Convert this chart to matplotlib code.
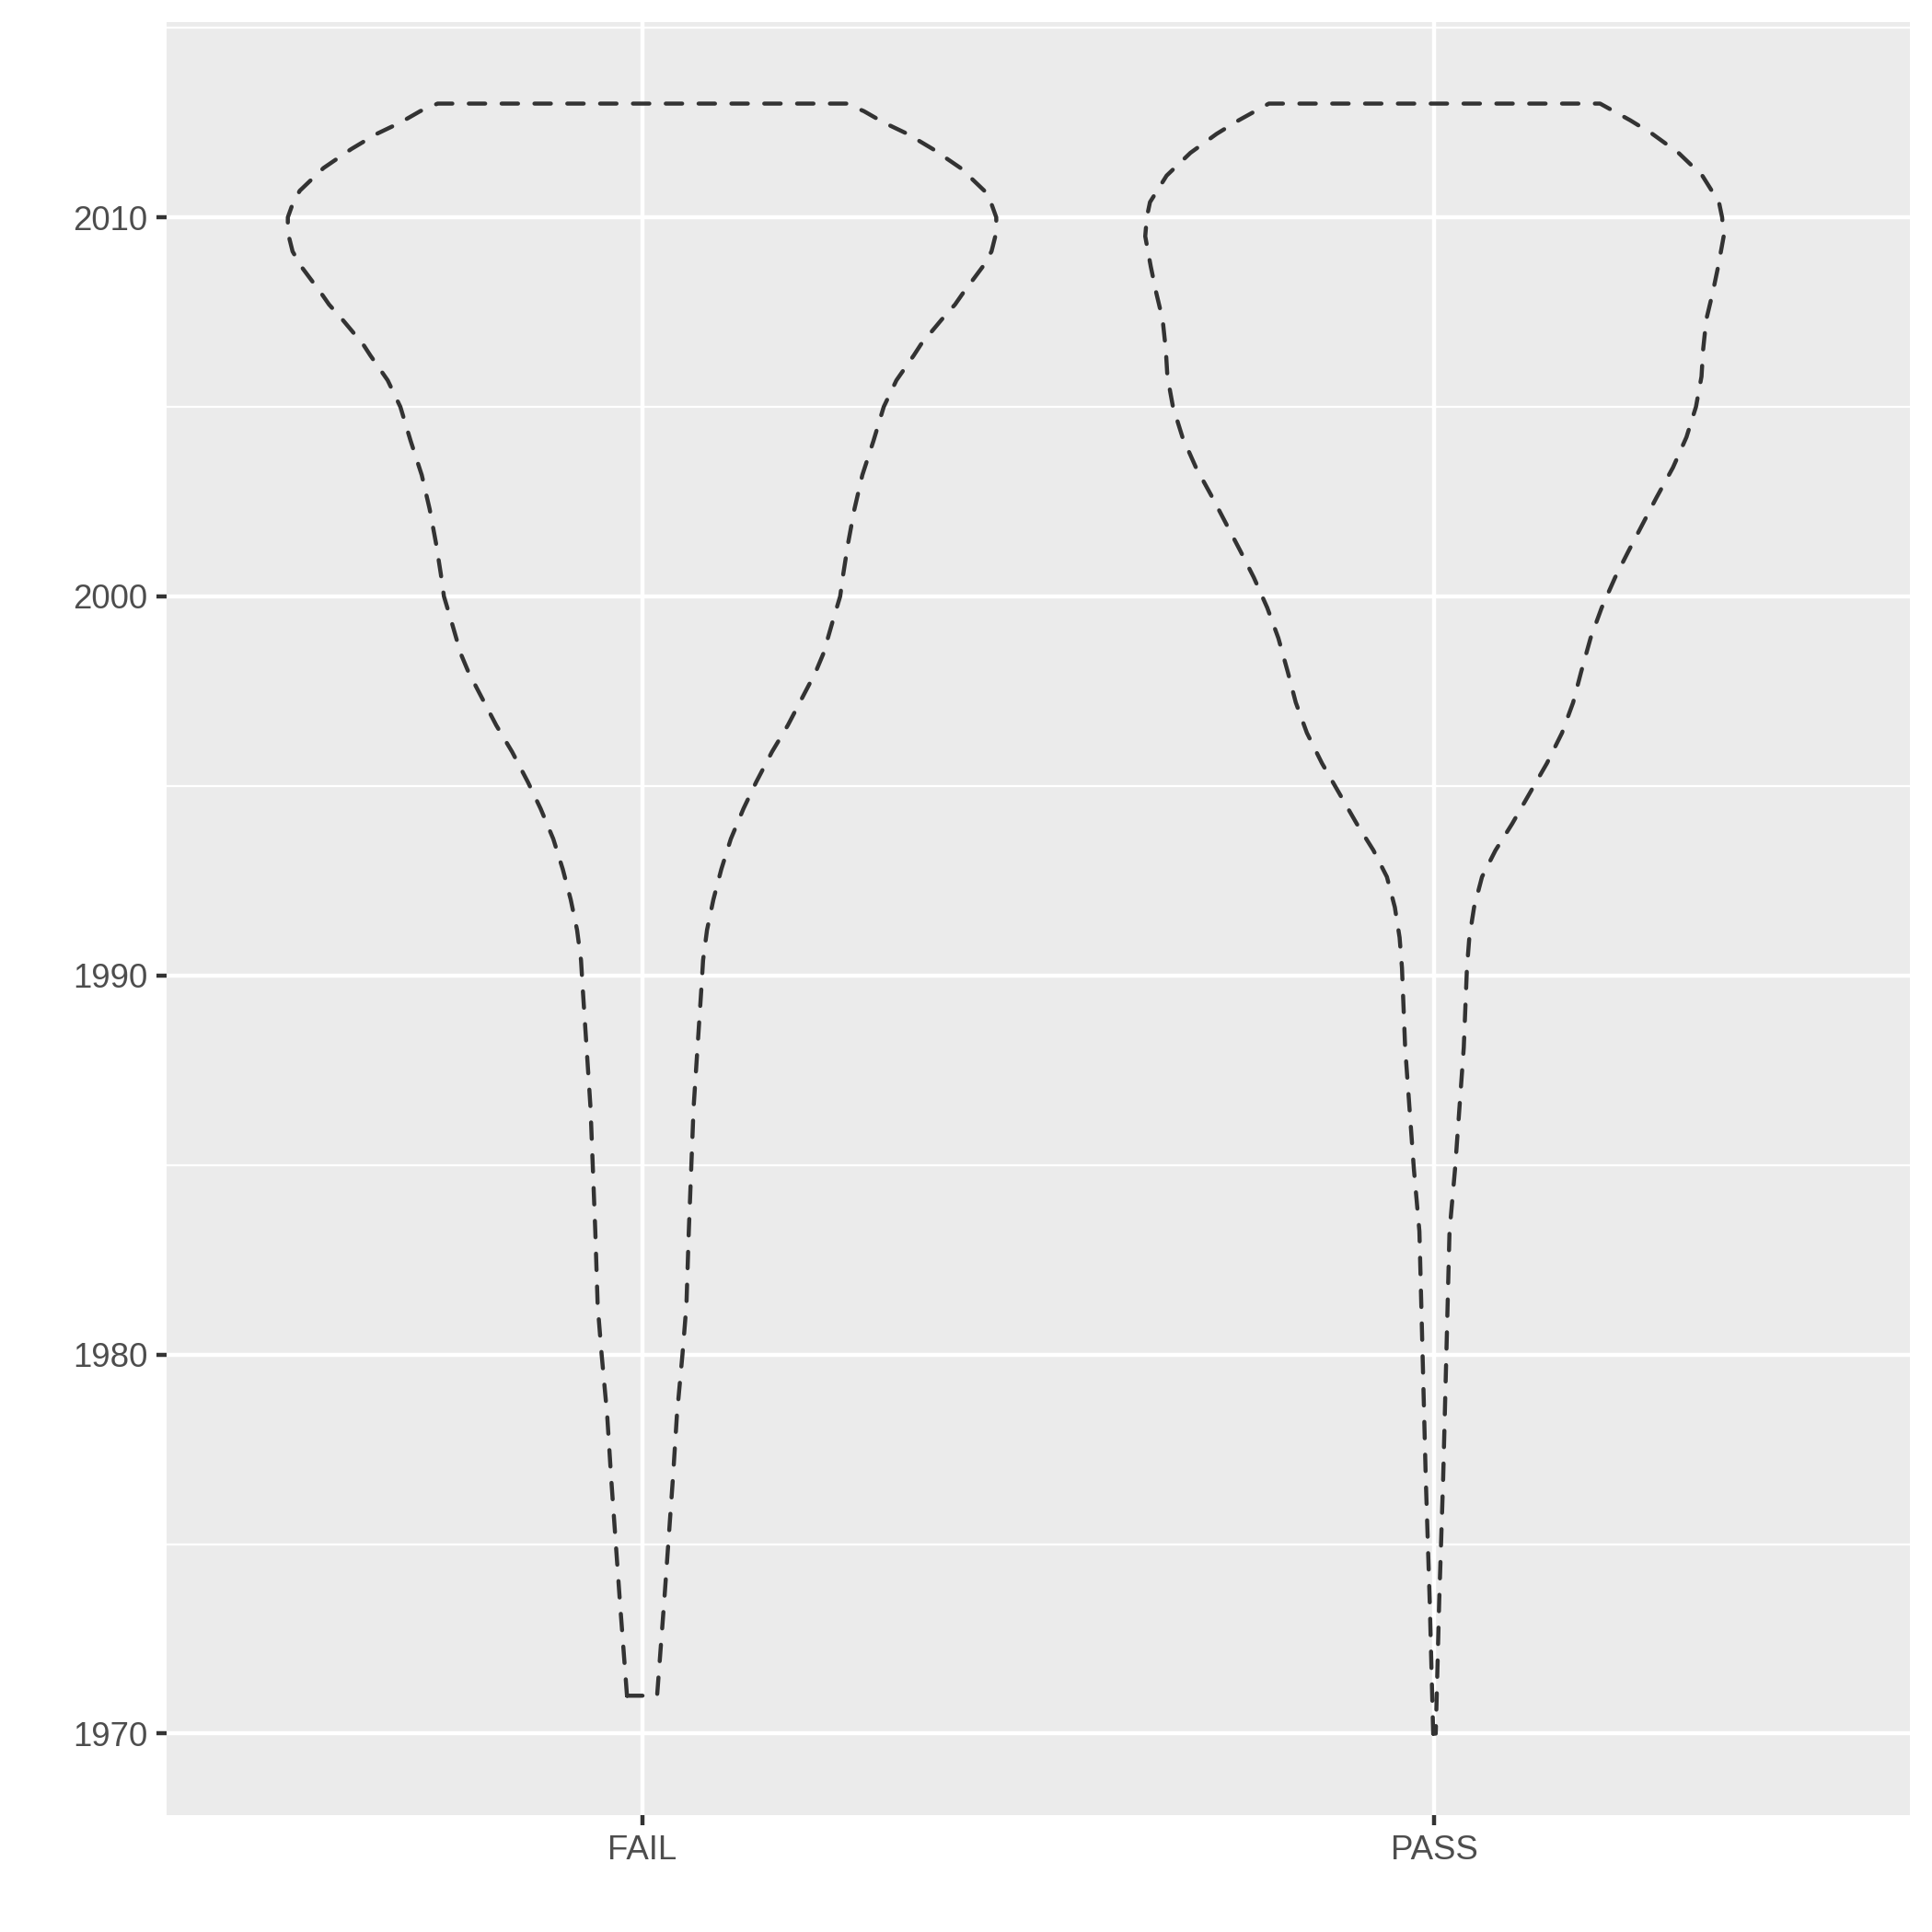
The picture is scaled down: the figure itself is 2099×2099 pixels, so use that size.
import matplotlib
matplotlib.use('Agg')
from matplotlib import pyplot as plt
import numpy as np

plt.rcParams['font.family'] = ['Liberation Sans', 'DejaVu Sans']

groups = ["FAIL", "PASS"]

# violin half-widths (x units), bottom to top
fail_years = [1971.0, 1973.5, 1976.75, 1978.4, 1980.0, 1981.3, 1983.25, 1986.5,
              1989.7, 1990.4, 1991.2, 1992.0, 1992.8, 1993.6, 1994.4, 1995.1,
              1995.9, 1996.6, 1997.4, 1998.0, 1998.5, 1999.3, 2000.0, 2000.6,
              2001.4, 2002.3, 2003.2, 2004.1, 2005.0, 2005.7, 2006.36, 2006.65,
              2007.05, 2007.3, 2007.7, 2008.0, 2008.7, 2009.1, 2009.6, 2010.0,
              2010.35, 2010.7, 2011.0, 2011.3, 2011.8, 2012.2, 2012.5, 2012.8,
              2013.0]
fail_hw = [0.019, 0.028, 0.039, 0.044, 0.051, 0.056, 0.059, 0.065,
           0.075, 0.077, 0.082, 0.090, 0.100, 0.112, 0.128, 0.144,
           0.164, 0.184, 0.204, 0.219, 0.229, 0.240, 0.250, 0.254,
           0.260, 0.268, 0.278, 0.292, 0.305, 0.321, 0.343, 0.352,
           0.368, 0.378, 0.395, 0.405, 0.430, 0.441, 0.447, 0.447,
           0.441, 0.432, 0.417, 0.402, 0.367, 0.335, 0.305, 0.280,
           0.258]

pass_years = [1970.0, 1973.5, 1976.75, 1980.0, 1983.25, 1984.9, 1988.1, 1990.2,
              1991.0, 1991.8, 1992.6, 1993.3, 1994.0, 1994.8, 1995.6, 1996.4,
              1997.2, 1998.0, 1998.9, 1999.7, 2000.5, 2001.2, 2001.8, 2002.6,
              2003.4, 2004.2, 2005.0, 2005.8, 2006.5, 2007.3, 2008.0, 2008.7,
              2009.5, 2010.0, 2010.4, 2011.1, 2011.7, 2012.2, 2012.56, 2013.0]
pass_hw = [0.0016, 0.006, 0.011, 0.015, 0.019, 0.026, 0.037, 0.041,
           0.044, 0.050, 0.060, 0.077, 0.098, 0.120, 0.142, 0.161,
           0.175, 0.185, 0.197, 0.211, 0.228, 0.245, 0.260, 0.280,
           0.301, 0.318, 0.330, 0.337, 0.339, 0.343, 0.351, 0.358,
           0.365, 0.363, 0.359, 0.338, 0.308, 0.275, 0.247, 0.209]

y_ticks = [1970, 1980, 1990, 2000, 2010]
y_minor = [1975, 1985, 1995, 2005, 2015]

fig = plt.figure(figsize=(2099 / 300, 2099 / 300), dpi=300)
ax = fig.add_axes([181 / 2099, 1 - 1972 / 2099, (2075 - 181) / 2099, (1972 - 24) / 2099])
ax.set_facecolor('#EBEBEB')
for s in ax.spines.values():
    s.set_visible(False)

ax.set_xlim(0.4, 2.6)
ax.set_ylim(1967.85, 2015.15)

lw = 1.07
for y in y_minor:
    ax.axhline(y, color='white', lw=lw / 2, zorder=0)
for y in y_ticks:
    ax.axhline(y, color='white', lw=lw, zorder=0)
for i in range(len(groups)):
    ax.axvline(i + 1, color='white', lw=lw, zorder=0)

for i, (yy, hw) in enumerate([(fail_years, fail_hw), (pass_years, pass_hw)]):
    yy = np.array(yy)
    hw = np.array(hw)
    c = i + 1
    xs = np.concatenate([c - hw, (c + hw)[::-1], [c - hw[0]]])
    ys = np.concatenate([yy, yy[::-1], [yy[0]]])
    ax.plot(xs, ys, color='#333333', lw=lw, linestyle=(0, (4, 4)),
            dash_capstyle='round', solid_capstyle='round', zorder=2)

ax.set_xticks([1, 2])
ax.set_xticklabels(groups)
ax.set_yticks(y_ticks)
ax.set_yticklabels([str(y) for y in y_ticks])
ax.tick_params(axis='both', length=2.75, width=lw, color='#333333',
               labelsize=8.8, labelcolor='#4D4D4D', pad=2.2)

plt.savefig('out.png', dpi=300)
